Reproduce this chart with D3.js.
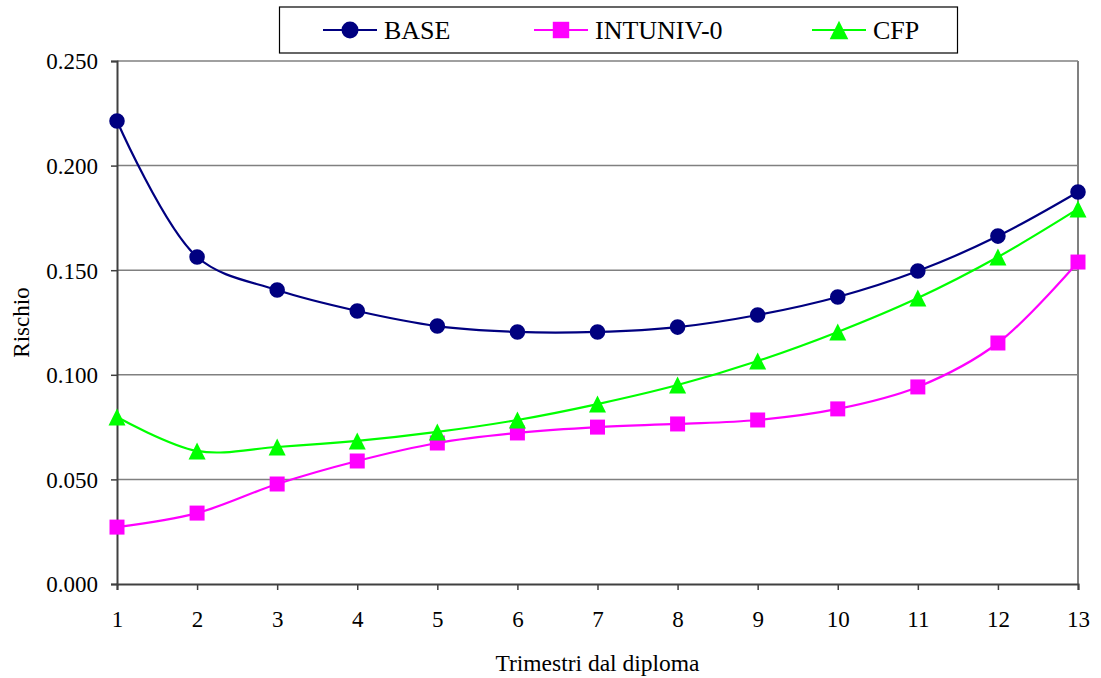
<!DOCTYPE html>
<html>
<head>
<meta charset="utf-8">
<script src="https://cdn.jsdelivr.net/npm/d3@7"></script>
<style>
  html, body { margin: 0; padding: 0; background: #fff; }
  svg { display: block; font-family: "Liberation Serif", "Times New Roman", serif; }
</style>
</head>
<body>
<svg id="chart" width="1101" height="678"></svg>
<script>
// Quarters since diploma
const quarters = [1, 2, 3, 4, 5, 6, 7, 8, 9, 10, 11, 12, 13];

// Risk by series
const base     = [0.2213, 0.1563, 0.1405, 0.1305, 0.1233, 0.1205, 0.1205, 0.1228, 0.1286, 0.1372, 0.1496, 0.1663, 0.1874];
const intuniv0 = [0.0272, 0.0339, 0.0478, 0.0588, 0.0674, 0.0722, 0.0750, 0.0765, 0.0784, 0.0837, 0.0942, 0.1152, 0.1539];
const cfp      = [0.0798, 0.0636, 0.0655, 0.0684, 0.0727, 0.0784, 0.0860, 0.0951, 0.1066, 0.1205, 0.1367, 0.1563, 0.1793];

const yTicks = [0, 0.05, 0.10, 0.15, 0.20, 0.25];
const seriesNames = ["BASE", "INTUNIV-0", "CFP"];

const FONT = "Liberation Serif, Times New Roman, serif";

// Triangle with equal width and height, centred on its bounding box
const boxTriangle = {
  draw(ctx, size) {
    const h = Math.sqrt(size) / 2;
    ctx.moveTo(0, -h);
    ctx.lineTo(h, h);
    ctx.lineTo(-h, h);
    ctx.closePath();
  }
};

const series = [
  { name: seriesNames[0], values: base,     color: "#000080", symbol: d3.symbolCircle, size: 190 },
  { name: seriesNames[1], values: intuniv0, color: "#FF00FF", symbol: d3.symbolSquare, size: 225 },
  { name: seriesNames[2], values: cfp,      color: "#00FF00", symbol: boxTriangle,     size: 290 }
];

const svg = d3.select("#chart");
const margin = { left: 117, right: 23, top: 61, bottom: 94 };
const W = 1101, H = 678;

const x = d3.scaleLinear().domain([1, 13]).range([margin.left, W - margin.right]);
const y = d3.scaleLinear().domain([0, 0.25]).range([H - margin.bottom, margin.top]);

// Horizontal gridlines
svg.append("g")
  .selectAll("line")
  .data(yTicks.filter(d => d > 0))
  .join("line")
  .attr("x1", x(1)).attr("x2", x(13))
  .attr("y1", d => y(d)).attr("y2", d => y(d))
  .attr("stroke", "#808080").attr("stroke-width", 1.5);

// Right border of plot area
svg.append("line")
  .attr("x1", x(13)).attr("x2", x(13))
  .attr("y1", y(0.25)).attr("y2", y(0))
  .attr("stroke", "#808080").attr("stroke-width", 2);

// Y axis
const yAxis = svg.append("g")
  .attr("transform", `translate(${x(1)},0)`)
  .call(d3.axisLeft(y).tickValues(yTicks).tickFormat(d3.format(".3f")).tickSize(6).tickPadding(13));
yAxis.select(".domain").attr("stroke", "#404040").attr("stroke-width", 2);
yAxis.selectAll(".tick line").attr("stroke", "#404040").attr("stroke-width", 1.5);
yAxis.selectAll("text").attr("font-size", 23).attr("fill", "#000")
  .attr("font-family", FONT).attr("dy", "0.34em");

// X axis
const xAxis = svg.append("g")
  .attr("transform", `translate(0,${y(0)})`)
  .call(d3.axisBottom(x).tickValues(quarters).tickFormat(d3.format("d")).tickSize(6));
xAxis.select(".domain").attr("stroke", "#404040").attr("stroke-width", 2);
xAxis.selectAll(".tick line").attr("stroke", "#404040").attr("stroke-width", 1.5);
xAxis.selectAll("text").attr("font-size", 23).attr("fill", "#000")
  .attr("font-family", FONT).attr("y", 43).attr("dy", 0);

// Axis titles
svg.append("text")
  .attr("transform", `translate(29,${(y(0) + y(0.25)) / 2}) rotate(-90)`)
  .attr("text-anchor", "middle")
  .attr("font-size", 23)
  .text("Rischio");

svg.append("text")
  .attr("x", (x(1) + x(13)) / 2)
  .attr("y", 671)
  .attr("text-anchor", "middle")
  .attr("font-size", 23.5)
  .text("Trimestri dal diploma");

// Smoothed series lines
const line = d3.line()
  .x((d, i) => x(quarters[i]))
  .y(d => y(d))
  .curve(d3.curveCatmullRom.alpha(0.5));

series.forEach(s => {
  svg.append("path")
    .attr("d", line(s.values))
    .attr("fill", "none")
    .attr("stroke", s.color)
    .attr("stroke-width", 2.2);
});

// Markers
series.forEach(s => {
  const sym = d3.symbol().type(s.symbol).size(s.size);
  svg.append("g")
    .selectAll("path")
    .data(s.values)
    .join("path")
    .attr("transform", (d, i) => `translate(${x(quarters[i])},${y(d)})`)
    .attr("d", sym)
    .attr("fill", s.color);
});

// Legend
const legend = svg.append("g");
legend.append("rect")
  .attr("x", 279.5).attr("y", 7).attr("width", 678).attr("height", 46)
  .attr("fill", "#fff").attr("stroke", "#000").attr("stroke-width", 1.2);

const legendPos = [323, 534, 812];
series.forEach((s, i) => {
  const g = legend.append("g").attr("transform", `translate(${legendPos[i]},30)`);
  g.append("line").attr("x1", 0).attr("x2", 54).attr("y1", 0).attr("y2", 0)
    .attr("stroke", s.color).attr("stroke-width", 2.2);
  g.append("path").attr("transform", "translate(27,0)")
    .attr("d", d3.symbol().type(s.symbol).size(s.size * 1.2)).attr("fill", s.color);
  g.append("text").attr("x", 61).attr("y", 9).attr("font-size", 26).text(s.name);
});
</script>
</body>
</html>
